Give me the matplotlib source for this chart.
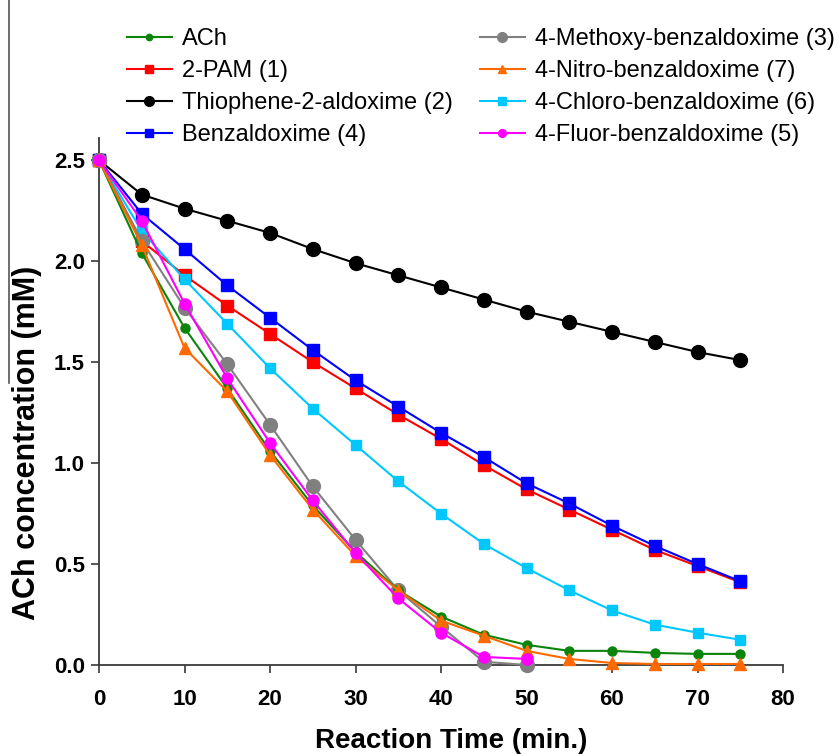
import matplotlib
matplotlib.use("Agg")
import matplotlib.pyplot as plt
from matplotlib.lines import Line2D

plt.rcParams['font.family'] = ['Liberation Sans', 'DejaVu Sans']

# reaction time (min.)
t_full = [0, 5, 10, 15, 20, 25, 30, 35, 40, 45, 50, 55, 60, 65, 70, 75]
t_short = [0, 5, 10, 15, 20, 25, 30, 35, 40, 45, 50]

# ACh concentration (mM)
ach = [2.50, 2.04, 1.67, 1.37, 1.06, 0.79, 0.56, 0.37, 0.24, 0.15, 0.10, 0.07, 0.07, 0.06, 0.055, 0.055]
pam = [2.50, 2.10, 1.93, 1.78, 1.64, 1.50, 1.37, 1.24, 1.12, 0.99, 0.87, 0.77, 0.67, 0.57, 0.49, 0.41]
thiophene = [2.50, 2.33, 2.26, 2.20, 2.14, 2.06, 1.99, 1.93, 1.87, 1.81, 1.75, 1.70, 1.65, 1.60, 1.55, 1.51]
benzald = [2.50, 2.235, 2.06, 1.88, 1.72, 1.56, 1.41, 1.28, 1.15, 1.03, 0.90, 0.80, 0.69, 0.59, 0.50, 0.415]
methoxy = [2.50, 2.10, 1.77, 1.49, 1.19, 0.885, 0.62, 0.37, 0.19, 0.016, 0.0]
nitro = [2.50, 2.08, 1.57, 1.355, 1.04, 0.77, 0.54, 0.37, 0.22, 0.145, 0.07, 0.03, 0.01, 0.005, 0.005, 0.005]
chloro = [2.50, 2.15, 1.91, 1.69, 1.47, 1.27, 1.09, 0.91, 0.75, 0.60, 0.48, 0.37, 0.27, 0.20, 0.16, 0.125]
fluoro = [2.50, 2.20, 1.79, 1.42, 1.10, 0.815, 0.555, 0.33, 0.16, 0.04, 0.03]

fig = plt.figure(figsize=(8.39, 7.54), dpi=100)
ax = fig.add_axes([99 / 839, 1 - 665 / 754, 684 / 839, 527 / 754])

# (label, x, y, color, marker, markersize, zorder)
series = [
    ('ACh', t_full, ach, '#0a840a', 'o', 6.5, 5),
    ('2-PAM (1)', t_full, pam, '#ff0000', 's', 8, 2),
    ('Thiophene-2-aldoxime (2)', t_full, thiophene, '#000000', 'o', 10, 2),
    ('Benzaldoxime (4)', t_full, benzald, '#0000ff', 's', 8, 3),
    ('4-Methoxy-benzaldoxime (3)', t_short, methoxy, '#808080', 'o', 10, 4),
    ('4-Nitro-benzaldoxime (7)', t_full, nitro, '#ff6a00', '^', 8.5, 6),
    ('4-Chloro-benzaldoxime (6)', t_full, chloro, '#00c8ff', 's', 7.5, 3),
    ('4-Fluor-benzaldoxime (5)', t_short, fluoro, '#ff00ff', 'o', 8, 7),
]

handles = []
for label, x, y, c, m, ms, z in series:
    h, = ax.plot(x, y, color=c, marker=m, markersize=ms, linewidth=1.5,
                 markeredgecolor=c, label=label, zorder=z, clip_on=False)
    handles.append(h)

ax.set_xlim(0, 80)
ax.set_ylim(0, 2.61)
ax.set_xticks(range(0, 81, 10))
ax.set_yticks([0.0, 0.5, 1.0, 1.5, 2.0, 2.5])
ax.set_yticklabels(['0.0', '0.5', '1.0', '1.5', '2.0', '2.5'])

for s in ['top', 'right']:
    ax.spines[s].set_visible(False)
for s in ['left', 'bottom']:
    ax.spines[s].set_color('#3a3a3a')
    ax.spines[s].set_linewidth(1.3)

ax.tick_params(axis='both', direction='out', length=6, width=1.2, color='#3a3a3a',
               labelsize=16)
ax.tick_params(axis='x', pad=11)
ax.tick_params(axis='y', pad=4)
for lab in ax.get_xticklabels() + ax.get_yticklabels():
    lab.set_fontweight('bold')

ax.set_xlabel('Reaction Time (min.)', fontsize=20, fontweight='bold', va='center')
ax.xaxis.set_label_coords((451 - 99) / 684, (665 - 741) / 527)
ax.set_ylabel('ACh concentration (mM)', fontsize=22, fontweight='bold', va='center')
ax.yaxis.set_label_coords((27 - 99) / 684, (665 - 443) / 527)

leg = fig.legend(handles=handles, ncol=2, loc='upper left',
                 bbox_to_anchor=(127 / 839, 1 - 28 / 754), frameon=False,
                 fontsize=17, handlelength=1.9, handletextpad=0.42,
                 columnspacing=1.15, labelspacing=0.43, borderpad=0,
                 borderaxespad=0, markerscale=0.7)

# stray border line at the left edge of the original screenshot
fig.add_artist(Line2D([9 / 839, 9 / 839], [1, 1 - 383 / 754], color='#555555',
                      linewidth=1.2, transform=fig.transFigure))

fig.savefig('out.png', dpi=100)
